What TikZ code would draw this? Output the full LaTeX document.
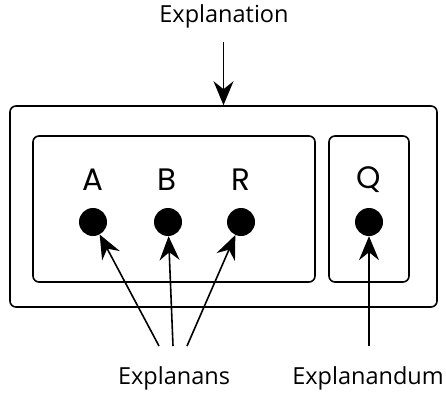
\documentclass[tikz,border=0pt]{standalone}
\usepackage{fontspec}
\setmainfont{Open Sans}
\newfontfamily\geofont{Poppins}
\usetikzlibrary{arrows.meta}
\begin{document}
\begin{tikzpicture}[x=1pt,y=-1pt,
  box/.style={draw,line width=1.6pt,rounded corners=6pt,inner sep=0pt},
  dot/.style={circle,fill=black,minimum size=28pt,inner sep=0pt},
  letter/.style={font=\geofont\fontsize{31}{31}\selectfont,inner sep=0pt},
  lbl/.style={font=\fontsize{23.5}{23.5}\selectfont,inner sep=0pt},
  arr/.style={line width=1.6pt,-{Stealth[length=24pt,width=20pt,inset=8pt]}}]
\useasboundingbox (0,0) rectangle (446,396);
\node[box,minimum width=427pt,minimum height=201pt] (outer) at (223.5,206.5) {};
\node[box,minimum width=282pt,minimum height=146pt] (left) at (174,209) {};
\node[box,minimum width=80pt,minimum height=146pt] (right) at (369,209) {};
\node[letter] (lA) at (93,180) {A};
\node[letter] (lB) at (167,180) {B};
\node[letter] (lR) at (241,180) {R};
\node[letter] (lQ) at (369,180) {Q};
\node[dot] (dA) at (93,222) {};
\node[dot] (dB) at (168,222) {};
\node[dot] (dR) at (241,222) {};
\node[dot] (dQ) at (369,222) {};
\node[lbl] (expl) at (224,16) {Explanation};
\node[lbl] (ans) at (174,378) {Explanans};
\node[lbl] (andum) at (368,378) {Explanandum};
\coordinate (e0) at (223.5,42);
\coordinate (s1) at (159,346);
\coordinate (s2) at (173,346);
\coordinate (s3) at (187,346);
\coordinate (s4) at (369,346);
\draw[arr] (e0) -- (outer.north);
\draw[arr] (s1) -- (dA);
\draw[arr] (s2) -- (dB);
\draw[arr] (s3) -- (dR);
\draw[arr] (s4) -- (dQ);
\end{tikzpicture}
\end{document}
